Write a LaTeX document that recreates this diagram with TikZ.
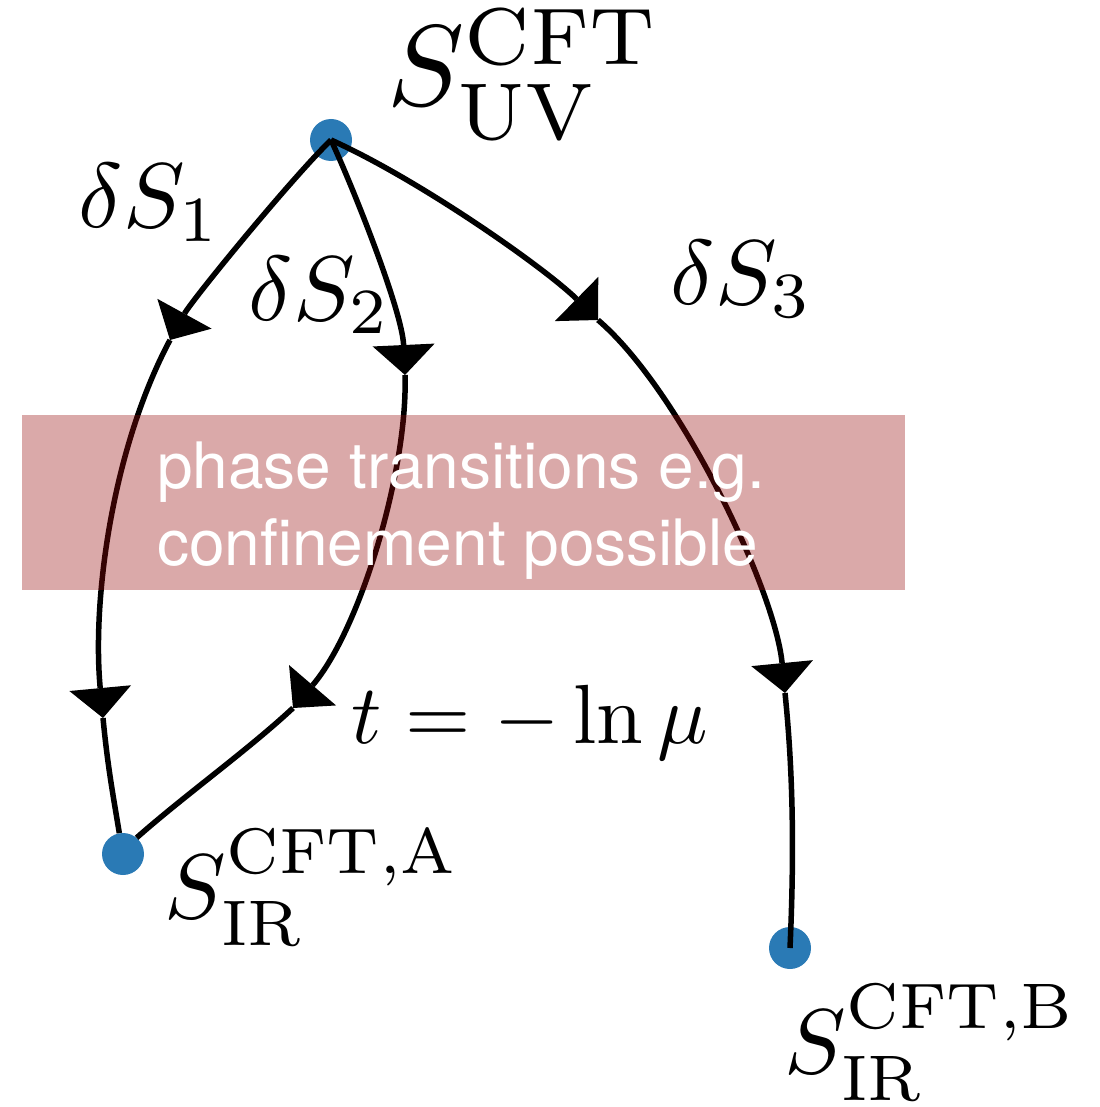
\RequirePackage{fix-cm}
\documentclass[tikz,border=0pt]{standalone}
\usepackage{fontspec}
\newfontfamily\boxfont{TeX Gyre Heros}
\usetikzlibrary{arrows.meta}
\definecolor{dotblue}{RGB}{42,122,181}
\definecolor{boxred}{RGB}{150,10,10}
\tikzset{
  dotnode/.style={circle, fill=dotblue, minimum size=42pt, inner sep=0pt},
  flow/.style={line width=5.5pt, line join=round},
  tipped/.style={flow, -{Triangle[length=30pt,width=62pt,line width=0pt]}},
  mathlabel/.style={anchor=base west, inner sep=0pt, font=\fontsize{10}{12}\selectfont, scale=#1, transform shape},
  boxtext/.style={anchor=base west, inner sep=0pt, text=white, font=\boxfont\fontsize{64}{77}\selectfont},
}
\begin{document}
\begin{tikzpicture}[x=1pt,y=-1pt]
\useasboundingbox (0,0) rectangle (1099,1107);
% fixed points
\node[dotnode] (uv) at (331,140) {};
\node[dotnode] (ira) at (123,854) {};
\node[dotnode] (irb) at (790,948) {};
% arrow-tip waypoints
\coordinate (t1) at (170,340);
\coordinate (t5) at (103,718);
\coordinate (t2) at (405,375);
\coordinate (t6) at (293,708);
\coordinate (t3) at (598,320);
\coordinate (t4) at (785,693);
% flow 1
\draw[tipped] (uv.center) .. controls (290,180) and (192,300) .. (t1);
\draw[tipped] (t1) .. controls (112,449) and (92,600) .. (t5);
\draw[flow] (t5) .. controls (108,770) and (114,800) .. (ira.100);
% flow 2
\draw[tipped] (uv.center) .. controls (352,185) and (402,310) .. (t2);
\draw[tipped] (t2) .. controls (408,470) and (360,630) .. (t6);
\draw[flow] (t6) .. controls (248,750) and (185,795) .. (ira.50);
% flow 3
\draw[tipped] (uv.center) .. controls (420,180) and (545,268) .. (t3);
\draw[tipped] (t3) .. controls (680,390) and (775,590) .. (t4);
\draw[flow] (t4) .. controls (795,790) and (793,880) .. (irb.center);
% shaded box
\node[fill=boxred, fill opacity=0.35, inner sep=0pt, minimum width=883pt, minimum height=175pt, anchor=north west] (band) at (22,415) {};
\node[boxtext] (bt1) at (157,488) {phase transitions e.g.};
\node[boxtext] (bt2) at (157,565) {confinement possible};
% labels
\node[mathlabel=11.5] (luv) at (385,106) {$S^{\mathrm{CFT}}_{\mathrm{UV}}$};
\node[mathlabel=9.2] (l1) at (77,228) {$\delta S_1$};
\node[mathlabel=9.2] (l2) at (247,320) {$\delta S_2$};
\node[mathlabel=9.2] (l3) at (669,304) {$\delta S_3$};
\node[mathlabel=8.4] (lt) at (350,743) {$t=-\ln\mu$};
\node[mathlabel=9.2] (la) at (163,918) {$S^{\mathrm{CFT,A}}_{\mathrm{IR}}$};
\node[mathlabel=9.2] (lb) at (783,1073) {$S^{\mathrm{CFT,B}}_{\mathrm{IR}}$};
\end{tikzpicture}
\end{document}
